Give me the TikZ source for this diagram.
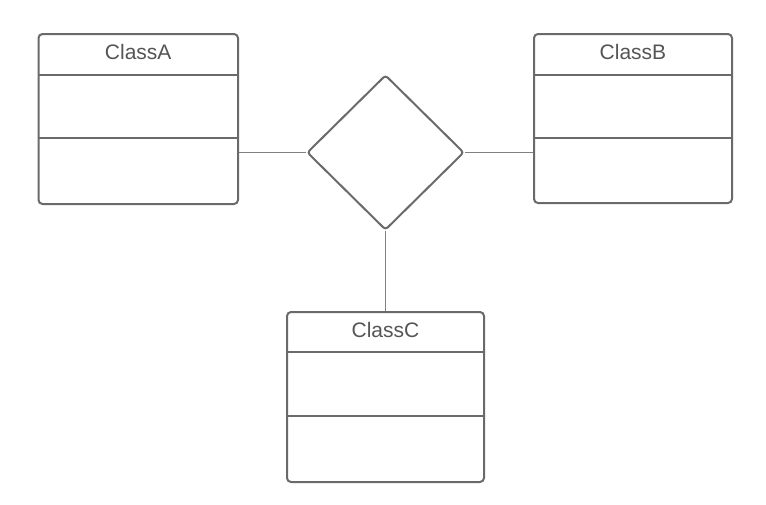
\documentclass[tikz,border=0pt]{standalone}
\usepackage{fontspec}
\setmainfont{Liberation Sans}
\usetikzlibrary{shapes.geometric,calc}
\definecolor{boxline}{HTML}{6A6A6A}
\definecolor{conline}{HTML}{808080}
\definecolor{txt}{HTML}{555555}
\begin{document}
\begin{tikzpicture}[x=1pt,y=-1pt,
  classbox/.style={draw=boxline,line width=2pt,rounded corners=4pt,fill=white,inner sep=0pt},
  divider/.style={draw=boxline,line width=2pt},
  relshape/.style={draw=boxline,line width=2pt,shape=diamond,rounded corners=3pt,inner sep=0pt,minimum width=157pt,minimum height=155pt,fill=white},
  conn/.style={draw=conline,line width=1.4pt},
  title/.style={text=txt,font=\fontsize{21}{24}\selectfont,inner sep=0pt}]
\useasboundingbox (0,0) rectangle (766,504);
\node[relshape] (D) at (385.5,152.5) {};
\node[classbox,minimum width=199.5pt,minimum height=170pt] (A) at (138.25,119) {};
\node[classbox,minimum width=198pt,minimum height=169pt] (B) at (633,118.5) {};
\node[classbox,minimum width=197pt,minimum height=170pt] (C) at (385.5,397) {};
\draw[conn] (D.west) -- (D.west -| A.east);
\draw[conn] (D.east) -- (D.east -| B.west);
\draw[conn] (D.south) -- (D.south |- C.north);
% dividers
\foreach \n/\a/\b in {A/42/105,B/42/105,C/41/105}{
  \draw[divider] ($(\n.north west)+(0,\a)$) -- ($(\n.north east)+(0,\a)$);
  \draw[divider] ($(\n.north west)+(0,\b)$) -- ($(\n.north east)+(0,\b)$);
}
\node[title] (tA) at ($(A.north)+(0,18.5)$) {ClassA};
\node[title] (tB) at ($(B.north)+(0,18.5)$) {ClassB};
\node[title] (tC) at ($(C.north)+(0,18.5)$) {ClassC};
\end{tikzpicture}
\end{document}
